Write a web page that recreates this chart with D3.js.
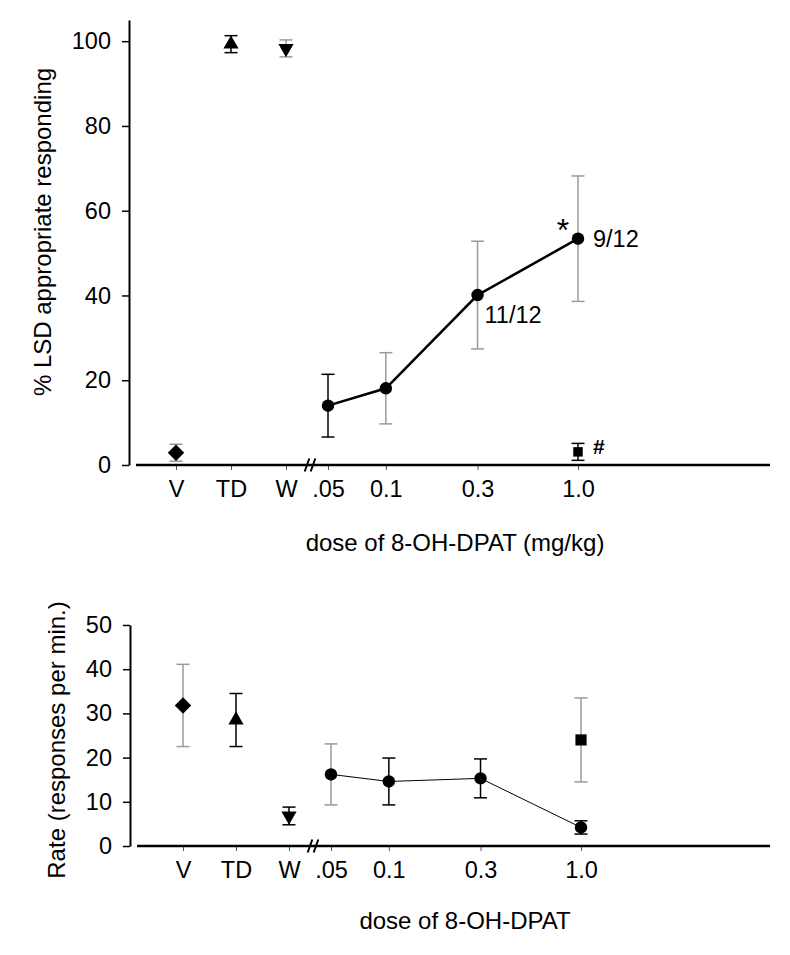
<!DOCTYPE html>
<html lang="en">
  <head>
    <meta charset="utf-8" />
    <title>8-OH-DPAT substitution</title>
    <script src="https://d3js.org/d3.v7.min.js"></script>
    <style>
      body { margin: 0; background: #fff; }
      svg text { font-family: "Liberation Sans", Arial, sans-serif; fill: #000; }
    </style>
  </head>
  <body>
    <div id="chart"></div>
    <script>
      // ---- data ----
      const conditions = ["V", "TD", "W"];
      const doses = [0.05, 0.1, 0.3, 1.0];
      const doseLabels = [".05", "0.1", "0.3", "1.0"];

      // top panel: % LSD appropriate responding
      const lsdCtrlMean = [2.9, 99.3, 98.3];
      const lsdCtrlSem = [2.0, 2.0, 2.0];
      const lsdDoseMean = [14.0, 18.1, 40.1, 53.4];
      const lsdDoseSem = [7.4, 8.4, 12.7, 14.8];
      const lsdSquareMean = [3.1];
      const lsdSquareSem = [2.0];
      const lsdTicks = [0, 20, 40, 60, 80, 100];

      // bottom panel: rate (responses per min.)
      const rateCtrlMean = [31.8, 28.5, 6.8];
      const rateCtrlSem = [9.3, 6.0, 2.0];
      const rateDoseMean = [16.2, 14.6, 15.3, 4.2];
      const rateDoseSem = [6.9, 5.3, 4.4, 1.5];
      const rateSquareMean = [24.0];
      const rateSquareSem = [9.5];
      const rateTicks = [0, 10, 20, 30, 40, 50];

      // ---- styles (kept apart from data) ----
      const ctrlShapes = ["diamond", "up", "down"];
      const GRAY = "#9a9a9a";
      const topCtrlErr = [GRAY, "#000", GRAY];
      const topDoseErr = ["#000", GRAY, GRAY, GRAY];
      const botCtrlErr = [GRAY, "#000", "#000"];
      const botDoseErr = [GRAY, "#000", "#000", "#000"];
      const TICK_FS = "23.5px", TITLE_FS = "24px";

      const W = 790, H = 955;
      const svg = d3.select("#chart").append("svg")
        .attr("width", W).attr("height", H);

      function marker(shape, size) {
        if (shape === "circle") return d3.symbol(d3.symbolCircle, size)();
        if (shape === "square") return d3.symbol(d3.symbolSquare, size)();
        if (shape === "diamond") return d3.symbol(d3.symbolSquare, size)();
        return d3.symbol(d3.symbolTriangle, size)();
      }
      function rot(shape) {
        if (shape === "diamond") return 45;
        if (shape === "down") return 180;
        return 0;
      }

      function errBar(g, x, yLo, yHi, color) {
        const e = g.append("g").attr("stroke", color).attr("stroke-width", 1.5).attr("fill", "none");
        e.append("line").attr("x1", x).attr("x2", x).attr("y1", yLo).attr("y2", yHi);
        e.append("line").attr("x1", x - 6.5).attr("x2", x + 6.5).attr("y1", yLo).attr("y2", yLo);
        e.append("line").attr("x1", x - 6.5).attr("x2", x + 6.5).attr("y1", yHi).attr("y2", yHi);
      }

      function panel(opt) {
        const g = svg.append("g");
        const y = opt.y, cat = opt.cat, dose = opt.dose;
        const y0 = y(0);

        // y axis
        g.append("g")
          .attr("transform", `translate(${opt.yAxisX},0)`)
          .call(d3.axisLeft(y).tickValues(opt.ticks).tickSize(7).tickPadding(11).tickSizeOuter(0))
          .call(a => a.attr("font-size", null).attr("font-family", null))
          .call(a => a.select(".domain").attr("stroke-width", 2))
          .call(a => a.selectAll(".tick line").attr("stroke-width", 1.5))
          .call(a => a.selectAll(".tick text").style("font-size", TICK_FS));

        // x axes (categorical controls + log dose)
        const xa1 = g.append("g").attr("transform", `translate(0,${y0})`)
          .call(d3.axisBottom(cat).tickSize(5).tickPadding(10).tickSizeOuter(0));
        const xa2 = g.append("g").attr("transform", `translate(0,${y0})`)
          .call(d3.axisBottom(dose).tickValues(doses).tickFormat((d, i) => doseLabels[i])
            .tickSize(5).tickPadding(10).tickSizeOuter(0));
        [xa1, xa2].forEach(a => {
          a.attr("font-size", null).attr("font-family", null);
          a.select(".domain").remove();
          a.selectAll(".tick line").attr("stroke", "#555").attr("stroke-width", 1);
          a.selectAll(".tick text").style("font-size", TICK_FS);
        });
        g.append("line")
          .attr("x1", opt.yAxisX + 7).attr("x2", 770)
          .attr("y1", y0).attr("y2", y0)
          .attr("stroke", "#000").attr("stroke-width", 2.5);

        // axis break //
        const bx = dose(0.05) - 18;
        [-3, 3].forEach(dx => {
          g.append("line")
            .attr("x1", bx + dx - 2.3).attr("y1", y0 + 6.5)
            .attr("x2", bx + dx + 2.3).attr("y2", y0 - 6.5)
            .attr("stroke", "#000").attr("stroke-width", 2);
        });

        // titles
        g.append("text")
          .attr("transform", `translate(${opt.yTitleX},${opt.yTitleY}) rotate(-90)`)
          .attr("text-anchor", "middle").style("font-size", TITLE_FS)
          .text(opt.yTitle);
        g.append("text")
          .attr("x", opt.xTitleX).attr("y", opt.xTitleY)
          .attr("text-anchor", "middle").style("font-size", TITLE_FS)
          .text(opt.xTitle);

        // error bars
        conditions.forEach((c, i) => {
          errBar(g, cat(c), y(opt.ctrlMean[i] - opt.ctrlSem[i]), y(opt.ctrlMean[i] + opt.ctrlSem[i]), opt.ctrlErr[i]);
        });
        doses.forEach((d, i) => {
          errBar(g, dose(d), y(opt.doseMean[i] - opt.doseSem[i]), y(opt.doseMean[i] + opt.doseSem[i]), opt.doseErr[i]);
        });
        opt.sqMean.forEach((m, i) => {
          errBar(g, dose(1.0), y(m - opt.sqSem[i]), y(m + opt.sqSem[i]), opt.sqErr);
        });

        // dose-response line
        g.append("path")
          .datum(doses.map((d, i) => [dose(d), y(opt.doseMean[i])]))
          .attr("d", d3.line())
          .attr("fill", "none").attr("stroke", "#000").attr("stroke-width", opt.lineWidth);

        // markers
        conditions.forEach((c, i) => {
          const s = ctrlShapes[i];
          g.append("path")
            .attr("d", marker(s, s === "diamond" ? 135 : 100))
            .attr("transform", `translate(${cat(c)},${y(opt.ctrlMean[i])}) rotate(${rot(s)})`)
            .attr("fill", "#000");
        });
        doses.forEach((d, i) => {
          g.append("path")
            .attr("d", marker("circle", 122))
            .attr("transform", `translate(${dose(d)},${y(opt.doseMean[i])})`)
            .attr("fill", "#000");
        });
        opt.sqMean.forEach(m => {
          g.append("path")
            .attr("d", marker("square", opt.sqSize))
            .attr("transform", `translate(${dose(1.0)},${y(m)})`)
            .attr("fill", "#000");
        });
        return g;
      }

      // ---- top panel ----
      const yTop = d3.scaleLinear().domain([0, 105]).range([465, 20]);
      const catTop = d3.scalePoint().domain(conditions).range([176, 286]);
      const doseTop = d3.scaleLog().domain([0.05, 1]).range([328, 578]);
      const topPanel = panel({
        y: yTop, cat: catTop, dose: doseTop, ticks: lsdTicks, yAxisX: 129,
        ctrlMean: lsdCtrlMean, ctrlSem: lsdCtrlSem, ctrlErr: topCtrlErr,
        doseMean: lsdDoseMean, doseSem: lsdDoseSem, doseErr: topDoseErr,
        sqMean: lsdSquareMean, sqSem: lsdSquareSem, sqErr: "#000", sqSize: 90,
        lineWidth: 2.5,
        yTitle: "% LSD appropriate responding", yTitleX: 51, yTitleY: 232,
        xTitle: "dose of 8-OH-DPAT (mg/kg)", xTitleX: 455, xTitleY: 551
      });

      // annotations
      topPanel.append("text")
        .attr("x", doseTop(1.0) - 15).attr("y", yTop(lsdDoseMean[3]) + 2)
        .attr("text-anchor", "middle").style("font-size", "32px").text("*");
      topPanel.append("text")
        .attr("x", doseTop(1.0) + 15).attr("y", yTop(lsdDoseMean[3]) + 8)
        .style("font-size", TICK_FS).text("9/12");
      topPanel.append("text")
        .attr("x", doseTop(0.3) + 7).attr("y", yTop(lsdDoseMean[2]) + 28)
        .style("font-size", TICK_FS).text("11/12");
      topPanel.append("text")
        .attr("x", doseTop(1.0) + 15).attr("y", yTop(lsdSquareMean[0]) + 2)
        .style("font-size", "21px").style("font-weight", "bold").text("#");

      // ---- bottom panel ----
      const yBot = d3.scaleLinear().domain([0, 50]).range([846, 625]);
      const catBot = d3.scalePoint().domain(conditions).range([183, 289]);
      const doseBot = d3.scaleLog().domain([0.05, 1]).range([331, 581]);
      panel({
        y: yBot, cat: catBot, dose: doseBot, ticks: rateTicks, yAxisX: 130,
        ctrlMean: rateCtrlMean, ctrlSem: rateCtrlSem, ctrlErr: botCtrlErr,
        doseMean: rateDoseMean, doseSem: rateDoseSem, doseErr: botDoseErr,
        sqMean: rateSquareMean, sqSem: rateSquareSem, sqErr: GRAY, sqSize: 125,
        lineWidth: 1,
        yTitle: "Rate (responses per min.)", yTitleX: 65, yTitleY: 740,
        xTitle: "dose of 8-OH-DPAT", xTitleX: 465, xTitleY: 929
      });
    </script>
  </body>
</html>
